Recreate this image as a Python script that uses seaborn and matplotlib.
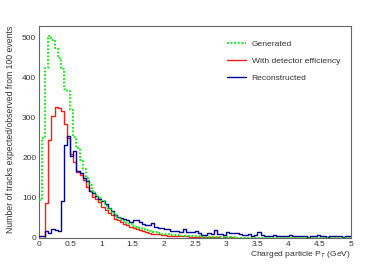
import numpy as np
import pandas as pd
import matplotlib
matplotlib.use("Agg")
import matplotlib.pyplot as plt
from matplotlib.ticker import MultipleLocator
import seaborn as sns

# --- DATA: track counts per 0.05 GeV bin, 0 to 5 GeV (100 bins) ---
bin_width = 0.05
pt_range = (0, 5)

generated = [
    95, 250, 423, 503, 493, 473, 448, 420, 372, 366,
    318, 252, 224, 195, 172, 150, 133, 118, 108, 100,
    92, 80, 72, 64, 56, 50, 46, 42, 38, 34,
    30, 28, 26, 23, 20, 18, 16, 14, 12, 11,
    10, 9, 8, 8, 7, 6, 6, 5, 5, 4,
    4, 4, 3, 3, 3, 3, 2, 2, 2, 2,
    2, 2, 2, 1, 1, 1, 1, 1, 1, 1,
    1, 1, 1, 1, 1, 1, 1, 1, 1, 1,
    1, 1, 1, 0, 1, 0, 1, 0, 1, 0,
    1, 0, 0, 1, 0, 0, 1, 0, 0, 0,
]

with_efficiency = [
    0, 0, 87, 244, 303, 326, 323, 315, 283, 250,
    208, 190, 165, 158, 145, 128, 116, 103, 97, 90,
    78, 70, 62, 57, 48, 44, 40, 36, 33, 28,
    25, 22, 20, 17, 14, 12, 11, 10, 9, 8,
    7, 6, 6, 5, 5, 4, 4, 4, 3, 3,
    3, 3, 2, 2, 2, 2, 2, 2, 1, 2,
    1, 2, 1, 1, 1, 1, 1, 1, 1, 1,
    1, 1, 1, 1, 1, 1, 1, 1, 1, 1,
    1, 1, 1, 1, 1, 1, 1, 1, 1, 1,
    1, 1, 1, 1, 1, 1, 1, 1, 1, 1,
]

reconstructed = [
    4, 4, 17, 12, 22, 20, 18, 91, 232, 253,
    204, 216, 166, 162, 149, 142, 117, 112, 105, 98,
    92, 84, 75, 68, 58, 52, 50, 48, 45, 40,
    45, 46, 40, 36, 33, 32, 37, 28, 25, 24,
    22, 22, 17, 17, 18, 15, 22, 14, 14, 15,
    18, 12, 8, 7, 12, 10, 20, 9, 10, 8,
    14, 12, 12, 13, 10, 8, 8, 9, 6, 8,
    15, 7, 6, 5, 6, 8, 5, 4, 6, 5,
    7, 4, 5, 6, 4, 5, 3, 4, 5, 7,
    4, 6, 3, 5, 6, 4, 5, 3, 4, 5,
]

series_names = ["Generated", "With detector efficiency", "Reconstructed"]
series_colors = ["#00ee00", "#ff1a1a", "#000099"]
x_tick_labels = ["0", "0.5", "1", "1.5", "2", "2.5", "3", "3.5", "4", "4.5", "5"]

# --- BUILD LONG TABLE (one row per bin, weighted by count) ---
edges = np.arange(pt_range[0], pt_range[1] + bin_width / 2, bin_width)
centers = 0.5 * (edges[:-1] + edges[1:])
df = pd.concat([
    pd.DataFrame({"pt": centers, "count": vals, "series": name})
    for name, vals in zip(series_names, [generated, with_efficiency, reconstructed])
], ignore_index=True)

# --- PLOT ---
sns.set_style("white")
plt.rcParams["font.family"] = ["Liberation Sans", "DejaVu Sans"]

fig = plt.figure(figsize=(3.9, 2.65), dpi=100)
ax = fig.add_axes([0.1, 0.102, 0.8, 0.8])

styles = {
    "Generated": dict(linestyle=(0, (1.0, 1.0)), linewidth=1.3, zorder=4),
    "With detector efficiency": dict(linestyle="-", linewidth=1.0, zorder=2),
    "Reconstructed": dict(linestyle="-", linewidth=1.0, zorder=3),
}
for name, color in zip(series_names, series_colors):
    sub = df[df["series"] == name]
    sns.histplot(data=sub, x="pt", weights="count", binwidth=bin_width,
                 binrange=pt_range, element="step", fill=False, color=color,
                 label=name, ax=ax, **styles[name])

ax.set_xlim(*pt_range)
ax.set_ylim(0, 528)
ax.xaxis.set_minor_locator(MultipleLocator(0.1))
ax.yaxis.set_major_locator(MultipleLocator(100))
ax.yaxis.set_minor_locator(MultipleLocator(20))
ax.set_xticks(np.linspace(pt_range[0], pt_range[1], len(x_tick_labels)))
ax.set_xticklabels(x_tick_labels)

ax.tick_params(which="both", direction="in", top=False, right=False,
               colors="#555555", labelcolor="#333333", labelsize=6, pad=2)
ax.tick_params(which="major", length=3.6, width=0.6)
ax.tick_params(which="minor", length=1.8, width=0.6)
for sp in ax.spines.values():
    sp.set_color("#666666")
    sp.set_linewidth(0.8)

ax.set_xlabel("Charged particle P$_{T}$ (GeV)", fontsize=6.1, color="#333333",
              loc="right", labelpad=1)
ax.set_ylabel("Number of tracks expected/observed from 100 events", fontsize=6.2,
              color="#333333", loc="top", labelpad=5)

ax.legend(loc="upper left", bbox_to_anchor=(0.578, 0.968), frameon=False,
          fontsize=6.1, handlelength=2.2, handletextpad=0.7, labelspacing=1.05,
          labelcolor="#333333")

fig.savefig("out.png", dpi=100)
